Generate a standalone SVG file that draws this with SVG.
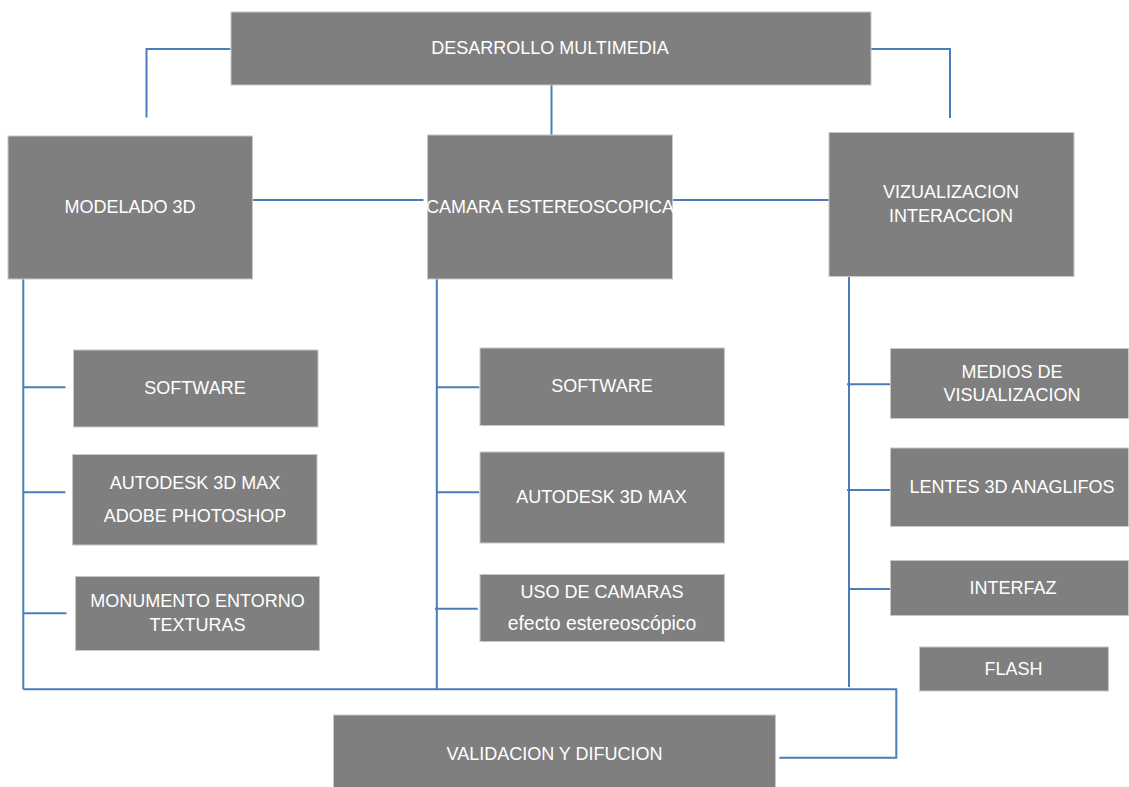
<svg xmlns="http://www.w3.org/2000/svg" width="1129" height="787" viewBox="0 0 1129 787">
<style>
.box{fill:#7f7f7f;stroke:#c8c8c8;stroke-width:1}
.t{font-family:"Liberation Sans",Arial,sans-serif;font-size:18px;fill:#ffffff;text-anchor:middle}
.c{fill:none;stroke:#4a7ebb;stroke-width:2}
</style>
<rect width="1129" height="787" fill="#ffffff"/>
<g id="connectors">
<path class="c" d="M230.5,49 H146.5 V117.5"/>
<path class="c" d="M551.5,85 V135"/>
<path class="c" d="M867,49 H950 V118"/>
<path class="c" d="M252.5,200 H423.5"/>
<path class="c" d="M663.5,200 H836.5"/>
<path class="c" d="M23.3,279 V689.3"/>
<path class="c" d="M23.3,387.3 H65.5 M23.3,492.3 H65.5 M23.3,613.3 H66.5"/>
<path class="c" d="M436.8,278 V689.3"/>
<path class="c" d="M436.8,387.3 H479.3 M436.8,492.3 H479.3 M435,608.7 H477.8"/>
<path class="c" d="M849,276 V687"/>
<path class="c" d="M847,384.3 H890 M847,490 H890 M849,589 H890"/>
<path class="c" d="M23.3,689.3 H896.3 V757.7 H779.3"/>
</g>
<g id="desarrollo"><rect class="box" x="231" y="12" width="640" height="73"/><text class="t" x="550" y="54">DESARROLLO MULTIMEDIA</text></g>
<g id="modelado"><rect class="box" x="8" y="136" width="244.5" height="143"/><text class="t" x="130" y="213">MODELADO 3D</text></g>
<g id="camara"><rect class="box" x="427.5" y="135" width="245" height="144"/><text class="t" x="550" y="213">CAMARA ESTEREOSCOPICA</text></g>
<g id="vizualizacion"><rect class="box" x="829" y="132.5" width="245" height="144"/><text class="t" x="951" y="198">VIZUALIZACION</text><text class="t" x="951" y="222">INTERACCION</text></g>
<g id="software1"><rect class="box" x="73.5" y="350" width="244.5" height="77"/><text class="t" x="195" y="394">SOFTWARE</text></g>
<g id="autodesk1"><rect class="box" x="72.5" y="454.5" width="244.5" height="90.5"/><text class="t" x="195" y="489">AUTODESK 3D MAX</text><text class="t" x="195" y="522">ADOBE PHOTOSHOP</text></g>
<g id="monumento"><rect class="box" x="75.5" y="576.5" width="244" height="74"/><text class="t" x="197.5" y="606.5">MONUMENTO ENTORNO</text><text class="t" x="197.5" y="631">TEXTURAS</text></g>
<g id="software2"><rect class="box" x="480" y="348" width="244.5" height="77.5"/><text class="t" x="602" y="392">SOFTWARE</text></g>
<g id="autodesk2"><rect class="box" x="480" y="452" width="244.5" height="91"/><text class="t" x="601.5" y="503">AUTODESK 3D MAX</text></g>
<g id="uso"><rect class="box" x="480" y="574.5" width="244.5" height="67"/><text class="t" x="602" y="598">USO DE CAMARAS</text><text class="t" x="602" y="630" style="font-size:19.4px">efecto estereoscópico</text></g>
<g id="medios"><rect class="box" x="890.5" y="348.5" width="238" height="70"/><text class="t" x="1012" y="377.5">MEDIOS DE</text><text class="t" x="1012" y="401">VISUALIZACION</text></g>
<g id="lentes"><rect class="box" x="890.5" y="448" width="238" height="78.5"/><text class="t" x="1012" y="492.5">LENTES 3D ANAGLIFOS</text></g>
<g id="interfaz"><rect class="box" x="890.5" y="560.5" width="238" height="55"/><text class="t" x="1013" y="594">INTERFAZ</text></g>
<g id="flash"><rect class="box" x="919.5" y="647" width="189" height="44"/><text class="t" x="1013.5" y="675">FLASH</text></g>
<g id="validacion"><rect class="box" x="333.5" y="715" width="442" height="80"/><text class="t" x="554.5" y="760">VALIDACION Y DIFUCION</text></g>
</svg>
